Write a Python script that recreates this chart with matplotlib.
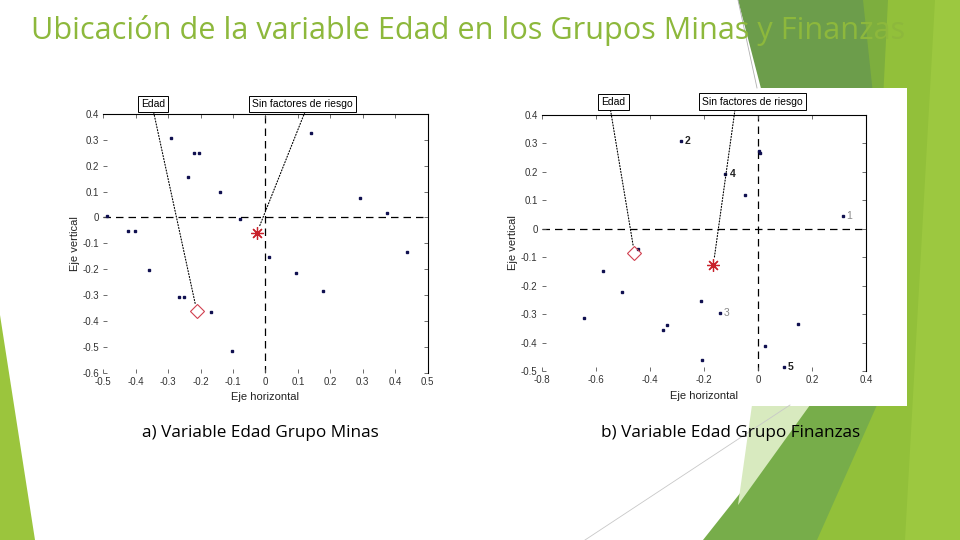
import matplotlib
matplotlib.use('Agg')
import matplotlib.pyplot as plt
from matplotlib.patches import Polygon, Rectangle

# ─── datos ───
minas_x = [-0.29, -0.22, -0.205, -0.24, -0.141, 0.139, 0.291, 0.374, -0.49, -0.08,
           -0.423, -0.403, -0.358, -0.267, -0.25, -0.168, -0.104, 0.01, 0.094, 0.177, 0.437]
minas_y = [0.306, 0.25, 0.25, 0.155, 0.097, 0.328, 0.077, 0.016, 0.005, -0.005,
           -0.054, -0.054, -0.203, -0.306, -0.306, -0.364, -0.515, -0.154, -0.213, -0.286, -0.135]
minas_edad = (-0.212, -0.36)
minas_sin_riesgo = (-0.027, -0.061)

fin_x = [-0.285, 0.004, 0.006, -0.12, -0.048, 0.313, -0.445, -0.572, -0.503, -0.642,
         -0.211, -0.14, -0.35, -0.336, 0.149, 0.026, -0.208, 0.095]
fin_y = [0.309, 0.272, 0.265, 0.193, 0.119, 0.045, -0.071, -0.149, -0.221, -0.315,
         -0.254, -0.295, -0.355, -0.34, -0.334, -0.411, -0.461, -0.485]
fin_labels = ['2', '', '', '4', '', '1', '', '', '', '',
              '', '3', '', '', '', '', '', '5']
fin_edad = (-0.457, -0.086)
fin_sin_riesgo = (-0.165, -0.127)

minas_xticks = [-0.5, -0.4, -0.3, -0.2, -0.1, 0, 0.1, 0.2, 0.3, 0.4, 0.5]
minas_yticks = [-0.6, -0.5, -0.4, -0.3, -0.2, -0.1, 0, 0.1, 0.2, 0.3, 0.4]
fin_xticks = [-0.8, -0.6, -0.4, -0.2, 0, 0.2, 0.4]
fin_yticks = [-0.5, -0.4, -0.3, -0.2, -0.1, 0, 0.1, 0.2, 0.3, 0.4]

titulo = 'Ubicación de la variable Edad en los Grupos Minas y Finanzas'
pie_a = 'a) Variable Edad Grupo Minas'
pie_b = 'b) Variable Edad Grupo Finanzas'

plt.rcParams['font.family'] = ['Liberation Sans', 'DejaVu Sans']
SLIDE_FONT = ['Open Sans', 'DejaVu Sans']

fig = plt.figure(figsize=(9.6, 5.4), dpi=100)
fig.patch.set_facecolor('white')

# ─── fondo de la diapositiva (coordenadas en píxeles) ───
bg = fig.add_axes([0, 0, 1, 1], zorder=0)
bg.set_xlim(0, 960)
bg.set_ylim(540, 0)
bg.axis('off')

shapes = [
    ([(860, 0), (960, 0), (960, 540), (760, 540)], '#92c03a'),
    ([(935, 0), (960, 0), (960, 540), (905, 540)], '#9cc840'),
    ([(738, 0), (866, 0), (880, 160), (790, 200)], '#6c9d4b'),
    ([(863, 0), (888, 0), (880, 160)], '#7dae3e'),
    ([(810, 405), (877, 405), (817, 540), (703, 540)], '#77ad4a'),
    ([(752, 405), (810, 405), (738, 505)], '#d8eabf'),
    ([(0, 315), (35, 540), (0, 540)], '#9bc53d'),
]
for pts, col in shapes:
    bg.add_patch(Polygon(pts, closed=True, facecolor=col, edgecolor='none'))
bg.plot([585, 790], [540, 405], color='#c8c8c8', lw=0.6)
bg.plot([738, 757], [0, 88], color='#b0b0b0', lw=0.6)

# panel blanco detrás del gráfico b
bg.add_patch(Rectangle((497, 88), 410, 318, facecolor='white', edgecolor='none'))

bg.text(31, 39, titulo, fontsize=22.1, color='#8db83c', family=SLIDE_FONT,
        va='baseline', ha='left')
bg.text(260, 433, pie_a, fontsize=12.3, color='black', family=SLIDE_FONT,
        ha='center', va='center')
bg.text(731, 433, pie_b, fontsize=12.3, color='black', family=SLIDE_FONT,
        ha='center', va='center')


def fmt(v):
    return '0' if v == 0 else f'{v:g}'


def scatter_panel(ax, xs, ys, xticks, yticks, edad, sin_riesgo, boxes, labels=None):
    ax.set_facecolor('none')
    ax.axhline(0, color='black', lw=0.9, ls=(0, (6, 4)), zorder=1)
    ax.axvline(0, color='black', lw=0.9, ls=(0, (6, 4)), zorder=1)
    ax.plot(xs, ys, 's', color='#101050', markersize=1.8, zorder=3)
    if labels:
        for x, y, t in zip(xs, ys, labels):
            if t:
                faint = t in ('1', '3')
                ax.text(x + 0.015, y, t, fontsize=7.5, va='center',
                        color='#888888' if faint else '#222222',
                        fontweight='normal' if faint else 'bold')
    ax.plot(*edad, 'D', mfc='none', mec='#d04050', markersize=7, mew=0.8, zorder=4)
    ax.plot(*sin_riesgo, marker=(8, 2, 0), color='#c8202a', markersize=9,
            mew=0.9, zorder=4)

    for txt, pos, relx, target in boxes:
        ax.annotate(txt, xy=target, xytext=pos, textcoords='data',
                    fontsize=7.5, ha='center', va='center', annotation_clip=False,
                    bbox=dict(boxstyle='square,pad=0.3', fc='white', ec='black', lw=0.7),
                    arrowprops=dict(arrowstyle='-', ls=':', color='black', lw=0.8,
                                    relpos=(relx, 0), shrinkA=0, shrinkB=5))

    ax.set_xlim(xticks[0], xticks[-1])
    ax.set_ylim(yticks[0], yticks[-1])
    ax.set_xticks(xticks)
    ax.set_yticks(yticks)
    ax.set_xticklabels([fmt(v) for v in xticks])
    ax.set_yticklabels([fmt(v) for v in yticks])
    ax.tick_params(direction='in', length=3, width=0.6, labelsize=7,
                   labelcolor='#333333', color='#555555',
                   top=True, right=True, pad=3)
    for side in ('left', 'bottom'):
        ax.spines[side].set_visible(False)
    for side in ('top', 'right'):
        ax.spines[side].set_color('black')
        ax.spines[side].set_linewidth(0.8)
    ax.set_xlabel('Eje horizontal', fontsize=8, color='#222222', labelpad=4)
    ax.set_ylabel('Eje vertical', fontsize=8, color='#222222', labelpad=2)


ax1 = fig.add_axes([0.1076, 0.3098, 0.3379, 0.4791], zorder=2)
scatter_panel(ax1, minas_x, minas_y, minas_xticks, minas_yticks,
              minas_edad, minas_sin_riesgo,
              [('Edad', (-0.347, 0.439), 0.5, minas_edad),
               ('Sin factores de riesgo', (0.113, 0.439), 0.54, minas_sin_riesgo)])

ax2 = fig.add_axes([0.5643, 0.3130, 0.3378, 0.4741], zorder=2)
scatter_panel(ax2, fin_x, fin_y, fin_xticks, fin_yticks,
              fin_edad, fin_sin_riesgo,
              [('Edad', (-0.534, 0.446), 0.35, fin_edad),
               ('Sin factores de riesgo', (-0.02, 0.447), 0.33, fin_sin_riesgo)],
              labels=fin_labels)

fig.savefig('out.png', dpi=100)
